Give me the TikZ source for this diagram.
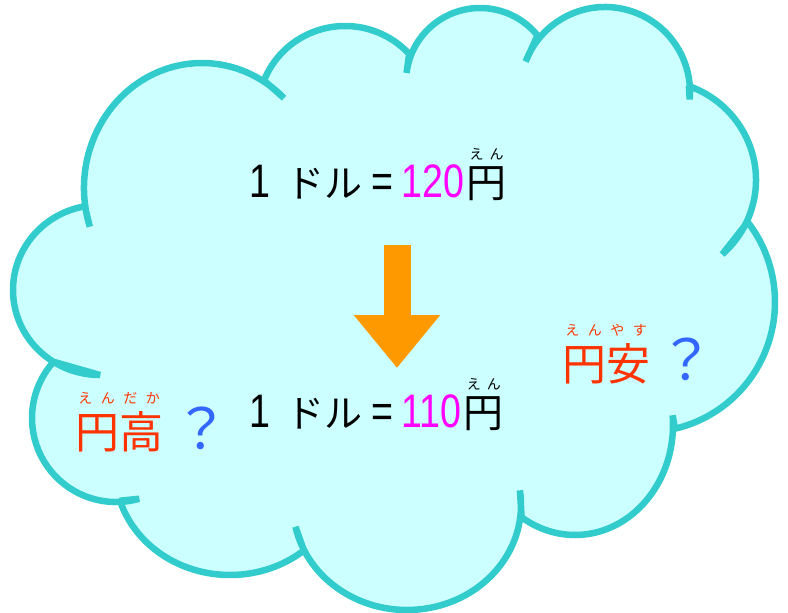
\documentclass[tikz,border=0pt]{standalone}
\usepackage{fontspec}
\setmainfont{Liberation Sans}
\newfontfamily\jpfont{Noto Sans CJK JP}
\newfontfamily\numfont[FakeStretch=0.8]{Liberation Sans}
\usetikzlibrary{arrows.meta,positioning}

\definecolor{cloudline}{HTML}{33CCCC}
\definecolor{cloudfill}{HTML}{CCFFFF}
\definecolor{rateclr}{HTML}{FF00FF}
\definecolor{yenred}{HTML}{FF3300}
\definecolor{qblue}{HTML}{3366FF}
\definecolor{arrowclr}{HTML}{FF9900}

\newcommand{\jptext}[1]{{\jpfont\fontsize{38}{38}\selectfont #1}}

\begin{document}
\begin{tikzpicture}[x=1pt,y=-1pt,
    cloud/.style={draw=cloudline,fill=cloudfill,line width=6.5pt,line join=bevel},
    num/.style={inner sep=0pt,font=\numfont\fontsize{47}{47}\selectfont},
    yen sign/.style={inner sep=0pt,font=\jpfont\fontsize{40}{40}\selectfont},
    ruby/.style={inner sep=0pt,font=\jpfont\fontsize{14}{14}\selectfont},
    big kanji/.style={inner sep=0pt,text=yenred,font=\jpfont\fontsize{44}{44}\selectfont},
    query/.style={inner sep=0pt,text=qblue,font=\jpfont\fontsize{56}{56}\selectfont}]
  \useasboundingbox (0,0) rectangle (788,613);

  % cloud: one elliptic arc per bump, clockwise from the left
  % centre x / centre y / x radius / y radius / start / end
  \draw[cloud] (100,375)
    \foreach \cx/\cy/\rx/\ry/\from/\to in {
        100/290/87/85/90/260,      % left
        202/188/118/125/162/314,   % top left
        345/112/87/86/201.5/317.5,
        480/82/74/74/187/321,
        605/92/85/85/201/365,      % top right
        654/180/102/100/290/408,
        646/302/129/130/-38/77,    % right
        575/425/98/110/-5/123,
        407/505/114/105/-8/168,    % bottom
        230/470/115/105/50/163,
        116/418/84/84/74/222}      % bottom left
    { -- ([shift={(\cx,\cy)}]\from:\rx\space and \ry)
         arc[start angle=\from,end angle=\to,x radius=\rx,y radius=\ry] }
    -- cycle;

  % before
  \node[num,anchor=base west] (lhs1) at (249,197) {1\hspace{16pt}\jptext{ドル}\hspace{9pt}=};
  \node[num,text=rateclr,anchor=base west] (rate1) at ([xshift=8pt]lhs1.base east) {120};
  \node[yen sign,anchor=base west] (yen1) at ([xshift=2pt]rate1.base east) {円};
  \node[ruby,above=6pt of yen1] (ruby1) {え\hspace{6pt}ん};

  % after
  \node[num,anchor=base west] (lhs2) at (249,427) {1\hspace{16pt}\jptext{ドル}\hspace{9pt}=};
  \node[num,text=rateclr,anchor=base west] (rate2) at ([xshift=8pt]lhs2.base east) {110};
  \node[yen sign,anchor=base west] (yen2) at ([xshift=2pt]rate2.base east) {円};
  \node[ruby,above=6pt of yen2] (ruby2) {え\hspace{6pt}ん};

  \coordinate (arrtop) at (397,245);
  \coordinate (arrtip) at (397,368);
  \draw[arrowclr,line width=27pt,-{Triangle[width=83pt,length=53pt]}] (arrtop) -- (arrtip);

  % yen up / yen down
  \node[big kanji,anchor=base west] (high) at (75,448) {円高};
  \node[ruby,text=yenred,above=6pt of high] (highruby)
    {え\hspace{8.5pt}ん\hspace{8.5pt}だ\hspace{8.5pt}か};
  \node[query,anchor=base] (highq) at (201,449) {？};

  \node[big kanji,anchor=base west] (low) at (562,380) {円安};
  \node[ruby,text=yenred,above=6pt of low] (lowruby)
    {え\hspace{8.5pt}ん\hspace{8.5pt}や\hspace{8.5pt}す};
  \node[query,anchor=base] (lowq) at (686,380) {？};
\end{tikzpicture}
\end{document}
